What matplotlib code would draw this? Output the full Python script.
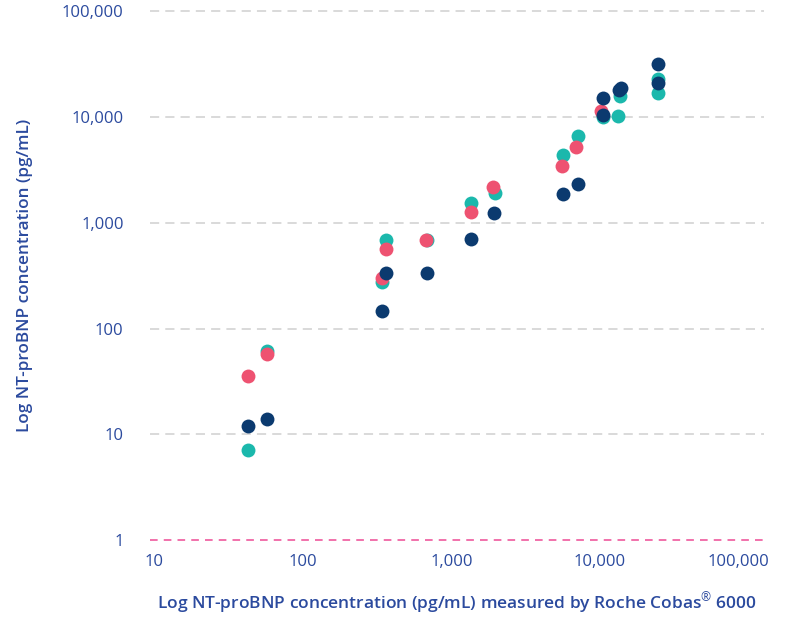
import matplotlib
matplotlib.use("Agg")
import matplotlib.pyplot as plt
from matplotlib.transforms import ScaledTranslation

# ---- data ----
navy_x = [42.9, 57.9, 341, 363, 685, 1355, 1931, 5640, 7100, 10450, 10450, 13400, 13800, 24500, 24500]
navy_y = [12.0, 13.9, 146, 337, 337, 707, 1236, 1872, 2342, 10520, 15240, 18020, 18920, 31740, 20990]

teal_x = [42.9, 57.9, 341, 363, 685, 1355, 1960, 5640, 7100, 10450, 13200, 13700, 24500, 24500]
teal_y = [7.1, 61.3, 275, 687, 687, 1528, 1925, 4375, 6665, 9950, 10300, 15710, 22900, 16860]

pink_x = [42.9, 57.9, 341, 363, 675, 1355, 1900, 5520, 6850, 10200]
pink_y = [35.6, 57.4, 303, 565, 687, 1264, 2166, 3420, 5210, 11400]

ticks = [1, 10, 100, 1000, 10000, 100000]
tick_labels = ["1", "10", "100", "1,000", "10,000", "100,000"]
xticks = [10, 100, 1000, 10000, 100000]
xtick_labels = ["10", "100", "1,000", "10,000", "100,000"]

xlabel = "Log NT-proBNP concentration (pg/mL) measured by Roche Cobas$^{\u00ae}$ 6000"
ylabel = "Log NT-proBNP concentration (pg/mL)"

TEXT = "#2B4A9E"
TEAL = "#1BB8AC"
PINK = "#EE5271"
NAVY = "#0B3A6F"
GRID = "#CFCFCF"
REFLINE = "#EE4A95"

plt.rcParams["font.family"] = ["Open Sans", "DejaVu Sans"]
plt.rcParams["mathtext.fontset"] = "custom"
plt.rcParams["mathtext.rm"] = "Open Sans"
plt.rcParams["mathtext.it"] = "Open Sans"
plt.rcParams["mathtext.bf"] = "Open Sans:bold"
plt.rcParams["mathtext.default"] = "rm"

fig = plt.figure(figsize=(7.87, 6.19), dpi=100)
ax = fig.add_axes([150 / 787, 79 / 619, 614 / 787, 528.7 / 619])

ax.set_xscale("log")
ax.set_yscale("log")
ax.set_xlim(10 ** (1 - 4 / 148.7), 10 ** (5 + 15.3 / 148.7))
ax.set_ylim(1, 100000)

for v in ticks:
    ax.axhline(v, color=REFLINE if v == 1 else GRID, lw=1.1,
               linestyle=(0, (5, 4)) if v == 1 else (0, (6, 4)), zorder=1, clip_on=False)

ms = 100
ax.scatter(teal_x, teal_y, s=ms, color=TEAL, linewidths=0, zorder=3)
ax.scatter(pink_x, pink_y, s=ms, color=PINK, linewidths=0, zorder=4)
ax.scatter(navy_x, navy_y, s=ms, color=NAVY, linewidths=0, zorder=5)

for s in ax.spines.values():
    s.set_visible(False)

ax.set_yticks(ticks)
ax.set_yticklabels(tick_labels)
ax.set_xticks(xticks)
ax.set_xticklabels(xtick_labels)
ax.minorticks_off()
ax.tick_params(axis="both", length=0, labelsize=12, labelcolor=TEXT)
ax.tick_params(axis="y", pad=19)
ax.tick_params(axis="x", pad=10)

lbls = ax.get_xticklabels()
lbls[-1].set_transform(lbls[-1].get_transform() + ScaledTranslation(-10 / 100, 0, fig.dpi_scale_trans))

ax.set_xlabel(xlabel, fontsize=12.5, color=TEXT, fontweight="semibold", labelpad=15)
ax.set_ylabel(ylabel, fontsize=12.3, color=TEXT, fontweight="semibold", labelpad=21)

fig.savefig("out.png", dpi=100)
